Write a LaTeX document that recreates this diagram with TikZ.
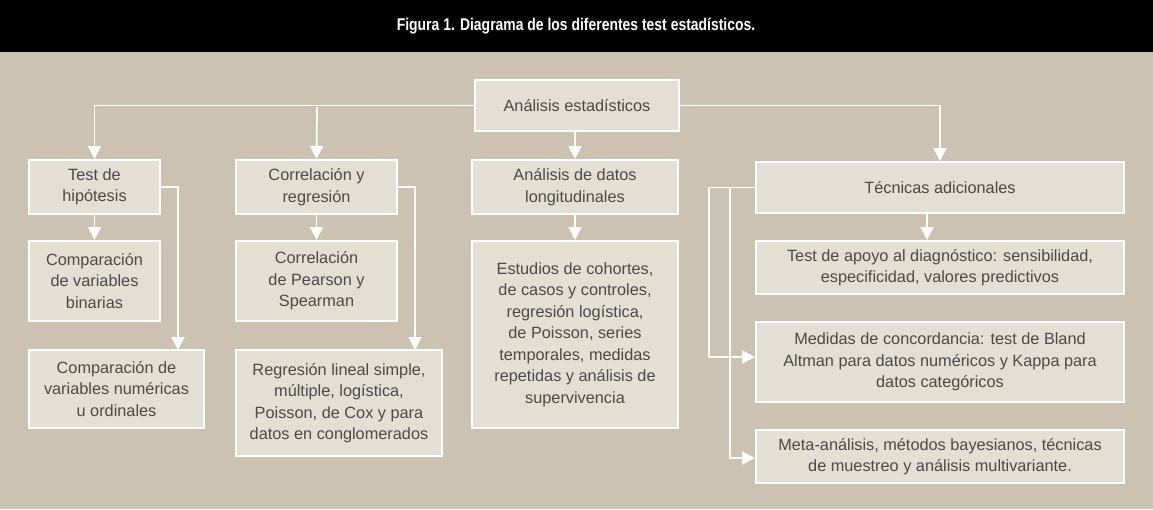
\documentclass[tikz,border=0pt]{standalone}
\usepackage{fontspec}
\setmainfont{Liberation Sans}
\usetikzlibrary{arrows.meta}
\definecolor{bg}{HTML}{CCC2B2}
\definecolor{bx}{HTML}{E4DFD5}
\definecolor{tx}{HTML}{4A4A4A}
\begin{document}
\begin{tikzpicture}[x=1pt,y=-1pt,
  box/.style={draw=white,line width=2pt,fill=bx,text=tx,align=center,inner sep=0pt,
     font=\fontsize{16.3}{21.5}\selectfont},
  con/.style={draw=white,line width=1.8pt},
  arr/.style={con,-{Triangle[width=13pt,length=13pt]}}]
\fill[bg] (0,0) rectangle (1153,509);
\fill[black] (0,0) rectangle (1153,52);
\useasboundingbox (0,0) rectangle (1153,509);
\node[text=white,font=\bfseries\fontsize{17}{20}\selectfont] (title) at (576,26) {\addfontfeature{FakeStretch=0.82}Figura 1. Diagrama de los diferentes test estadísticos.};
\newcommand{\bx}[6]{\node[box,minimum width=#4-#2,minimum height=#5-#3] (#1) at ({(#2+#4)/2},{(#3+#5)/2}) {#6};}
\bx{root}{475}{80}{679}{131}{Análisis estadísticos}
\bx{th}{29}{160}{160}{214}{Test de\\hipótesis}
\bx{cb}{29}{241}{160}{321}{Comparación\\de variables\\binarias}
\bx{cn}{29}{350}{204}{428}{Comparación de\\variables numéricas\\u ordinales}
\bx{cr}{236}{160}{397}{214}{Correlación y\\regresión}
\bx{cp}{236}{241}{397}{321}{Correlación\\de Pearson y\\Spearman}
\bx{rl}{236}{350}{442}{456}{Regresión lineal simple,\\múltiple, logística,\\Poisson, de Cox y para\\datos en conglomerados}
\bx{al}{472}{160}{678}{214}{Análisis de datos\\longitudinales}
\bx{es}{472}{241}{678}{428}{Estudios de cohortes,\\de casos y controles,\\regresión logística,\\de Poisson, series\\temporales, medidas\\repetidas y análisis de\\supervivencia}
\bx{ta}{756}{162}{1124}{213}{Técnicas adicionales}
\bx{tp}{756}{241}{1124}{294}{Test de apoyo al diagnóstico: sensibilidad,\\especificidad, valores predictivos}
\bx{md}{756}{322}{1124}{402}{Medidas de concordancia: test de Bland\\Altman para datos numéricos y Kappa para\\datos categóricos}
\bx{mt}{756}{430}{1124}{483}{Meta-análisis, métodos bayesianos, técnicas\\de muestreo y análisis multivariante.}
\coordinate (c1) at (317,107);
\coordinate (r1) at (575,131);
\coordinate (t1) at (927,213);
\coordinate (tb) at (730,187.5);
\draw[arr] (root.west) -| (th.north);
\draw[arr] (c1) -- (cr.north);
\draw[arr] (root.east) -| (ta.north);
\draw[arr] (r1) -- (r1 |- al.north);
\draw[arr] (th.south) -- (cb.north);
\draw[arr] (th.east) -| (178,350);
\draw[arr] (cr.south) -- (cp.north);
\draw[arr] (cr.east) -| (415,350);
\draw[arr] (al.south) -- (es.north);
\draw[arr] (t1) -- (t1 |- tp.north);
\draw[arr] (ta.west) -- (709,187.5) |- (md.west |- 0,357);
\draw[arr] (tb) |- (mt.west |- 0,458);
\end{tikzpicture}
\end{document}
